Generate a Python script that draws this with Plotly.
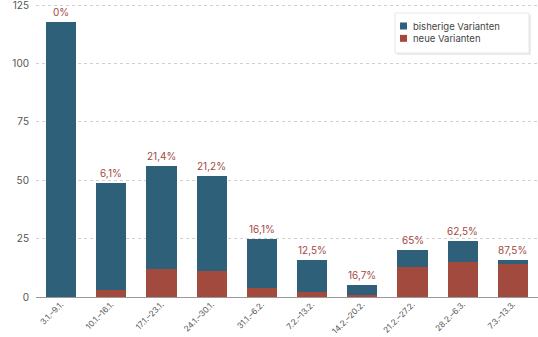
import plotly.graph_objects as go

categories = ["3.1.–9.1.", "10.1.–16.1.", "17.1.–23.1.", "24.1.–30.1.", "31.1.–6.2.",
              "7.2.–13.2.", "14.2.–20.2.", "21.2.–27.2.", "28.2.–6.3.", "7.3.–13.3."]
bisherige = [118, 46, 44, 41, 21, 14, 4, 7, 9, 2]
neue = [0, 3, 12, 11, 4, 2, 1, 13, 15, 14]
pct_labels = ["0%", "6,1%", "21,4%", "21,2%", "16,1%", "12,5%", "16,7%", "65%", "62,5%", "87,5%"]
legend_names = ["bisherige Varianten", "neue Varianten"]

BLUE = "#2e6079"
RED = "#a34a3f"
FONT = "Inter"

W, H = 538, 337
ML, MR, MT, MB = 36, 0, 4, 40
PW = W - ML - MR
PH = H - MT - MB


def px(x):
    return (x - ML) / PW


def py(y):
    return (H - MB - y) / PH


fig = go.Figure()
fig.add_trace(go.Bar(x=categories, y=neue, name=legend_names[1], marker_color=RED,
                     marker_line_width=0, showlegend=False))
fig.add_trace(go.Bar(x=categories, y=bisherige, name=legend_names[0], marker_color=BLUE,
                     marker_line_width=0, showlegend=False))

totals = [a + b for a, b in zip(bisherige, neue)]
for c, t, lab in zip(categories, totals, pct_labels):
    fig.add_annotation(x=c, y=t, text=lab, showarrow=False, xref="x", yref="y",
                       yanchor="bottom", yshift=2,
                       font=dict(family=FONT, size=10, color=RED))

# legend box (manual, with soft shadow)
fig.add_shape(type="rect", xref="paper", yref="paper", x0=px(397), x1=px(531), y0=py(55), y1=py(15),
              fillcolor="#ececec", line_width=0, layer="above")
fig.add_shape(type="rect", xref="paper", yref="paper", x0=px(395), x1=px(529), y0=py(53), y1=py(13),
              fillcolor="white", line=dict(color="#e6e6e6", width=1), layer="above")
LS = 12.35
for i, col in enumerate([BLUE, RED]):
    yc = 26 + LS * i
    fig.add_shape(type="rect", xref="paper", yref="paper", x0=px(400), x1=px(407),
                  y0=py(yc + 3.5), y1=py(yc - 3.5), fillcolor=col, line_width=0, layer="above")
fig.add_annotation(x=px(411), y=py(26 + LS / 2), xref="paper", yref="paper",
                   text="<br>".join(legend_names), align="left",
                   showarrow=False, xanchor="left", yanchor="middle",
                   font=dict(family=FONT, size=9.5, color="#444"))

fig.update_layout(
    width=W, height=H,
    margin=dict(l=ML, r=MR, t=MT, b=MB, autoexpand=False),
    barmode="stack", bargap=0.4,
    plot_bgcolor="white", paper_bgcolor="white",
    font=dict(family=FONT, color="#555"),
    showlegend=False,
)
fig.update_yaxes(range=[0, 125.5], tickvals=[0, 25, 50, 75, 100, 125],
                 showgrid=True, gridcolor="#d0d0d0", griddash="dot", gridwidth=1,
                 zeroline=True, zerolinecolor="#999", zerolinewidth=1,
                 tickfont=dict(family=FONT, size=10, color="#555"),
                 ticks="", ticklabelstandoff=6, ticklabeloverflow="allow", automargin=False)
fig.update_xaxes(tickangle=-45, tickfont=dict(family=FONT, size=8.2, color="#555"),
                 showline=False, ticks="", automargin=False, ticklabeloverflow="allow",
                 ticklabelstandoff=0)

fig.write_html("out.html")
